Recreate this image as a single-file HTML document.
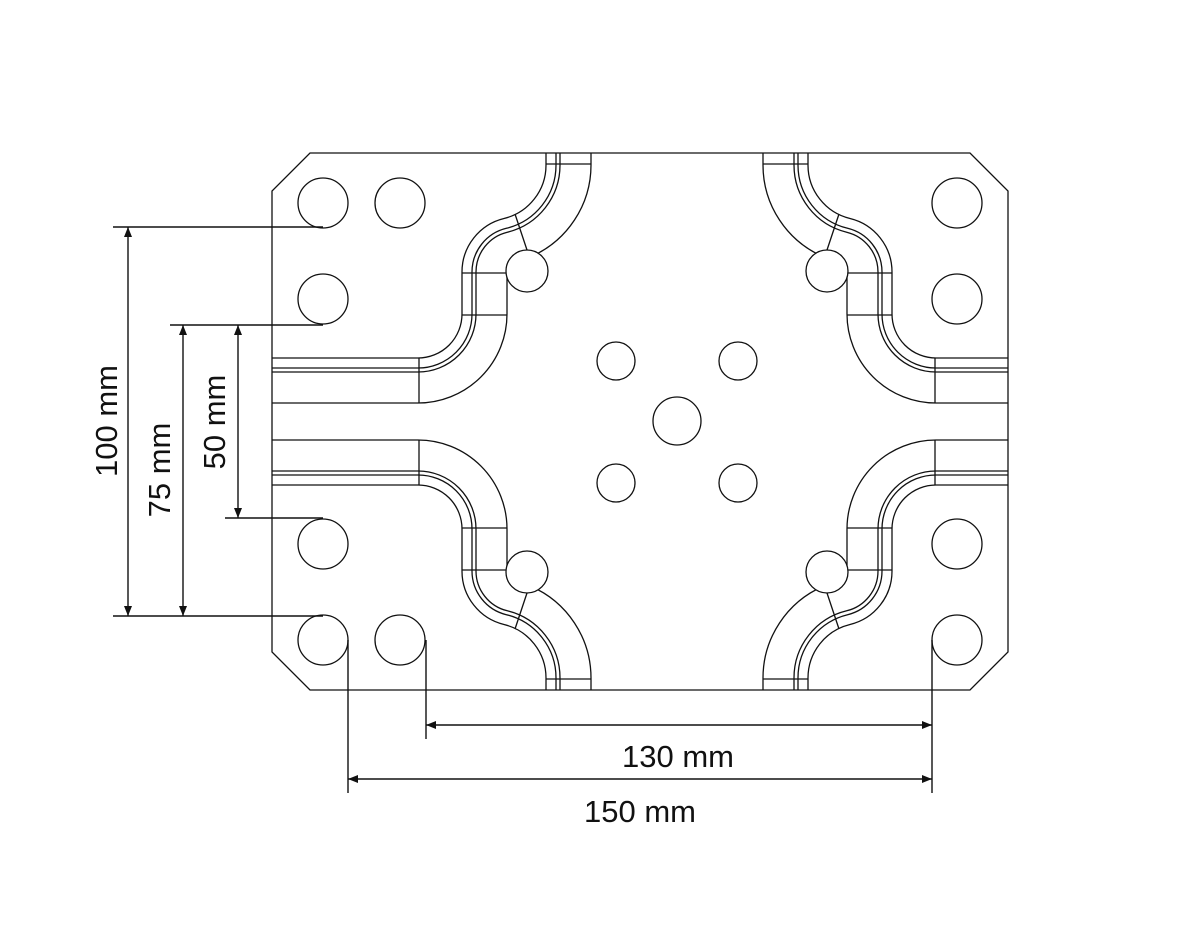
<!DOCTYPE html>
<html><head><meta charset="utf-8"><style>html,body{margin:0;padding:0;background:#fff}svg{display:block}</style></head>
<body>
<svg width="1200" height="950" viewBox="0 0 1200 950" xmlns="http://www.w3.org/2000/svg">
<defs>
<clipPath id="c"><rect x="272" y="153" width="736" height="537"/></clipPath>
<g id="q" fill="none" stroke="#111" stroke-width="1.3">
  <path d="M200,358 H418 A44 44 0 0 0 462,314 V272 A55 55 0 0 1 504,218.5 A55 55 0 0 0 546,165 V153"/>
  <path d="M200,368 H418 A54 54 0 0 0 472,314 V272 A45 45 0 0 1 506.4,228.3 A65 65 0 0 0 556,165 V153"/>
  <path d="M200,372 H418 A58 58 0 0 0 476,314 V272 A41 41 0 0 1 507.3,232.2 A69 69 0 0 0 560,165 V153"/>
  <path d="M200,403 H418 A89 89 0 0 0 507,314 V272"/>
  <path d="M530.4,256.9 A100 100 0 0 0 591,165 V153"/>
  <path d="M419,358 V403 M462,273 H507 M462,315 H507 M546,164 H591 M515,214 L527,250"/>
  <circle cx="527" cy="271" r="21" fill="#fff"/>
</g>
<marker id="a" viewBox="0 0 10 10" refX="10" refY="5" markerWidth="10" markerHeight="10" markerUnits="userSpaceOnUse" orient="auto-start-reverse"><path d="M10,5 L0,1 L0,9 Z" fill="#111"/></marker>
</defs>
<g fill="none" stroke="#111" stroke-width="1.3">
  <path d="M310,153 H970 L1008,191 V652 L970,690 H310 L272,652 V191 Z"/>
  <circle cx="323" cy="203" r="25"/><circle cx="400" cy="203" r="25"/><circle cx="323" cy="299" r="25"/>
  <circle cx="323" cy="544" r="25"/><circle cx="323" cy="640" r="25"/><circle cx="400" cy="640" r="25"/>
  <circle cx="957" cy="203" r="25"/><circle cx="957" cy="299" r="25"/>
  <circle cx="957" cy="544" r="25"/><circle cx="957" cy="640" r="25"/>
  <circle cx="616" cy="361" r="19"/><circle cx="738" cy="361" r="19"/>
  <circle cx="677" cy="421" r="24"/>
  <circle cx="616" cy="483" r="19"/><circle cx="738" cy="483" r="19"/>
</g>
<g clip-path="url(#c)">
<use href="#q"/>
<use href="#q" transform="translate(1354,0) scale(-1,1)"/>
<use href="#q" transform="translate(0,843) scale(1,-1)"/>
<use href="#q" transform="translate(1354,843) scale(-1,-1)"/>
</g>
<g stroke="#111" stroke-width="1.4" fill="none">
  <path d="M113,227 H323 M170,325 H323 M225,518 H323 M113,616 H323"/>
  <path d="M128,227 V616" marker-start="url(#a)" marker-end="url(#a)"/>
  <path d="M183,325 V616" marker-start="url(#a)" marker-end="url(#a)"/>
  <path d="M238,325 V518" marker-start="url(#a)" marker-end="url(#a)"/>
  <path d="M348,640 V793 M426,640 V739 M932,640 V793"/>
  <path d="M426,725 H932" marker-start="url(#a)" marker-end="url(#a)"/>
  <path d="M348,779 H932" marker-start="url(#a)" marker-end="url(#a)"/>
</g>
<g font-family="Liberation Sans, sans-serif" font-size="31" fill="#111" text-anchor="middle">
  <text x="678" y="767">130 mm</text>
  <text x="640" y="822">150 mm</text>
  <text transform="translate(117,421) rotate(-90)">100 mm</text>
  <text transform="translate(170,470) rotate(-90)">75 mm</text>
  <text transform="translate(225,422) rotate(-90)">50 mm</text>
</g>
</svg>
</body></html>
